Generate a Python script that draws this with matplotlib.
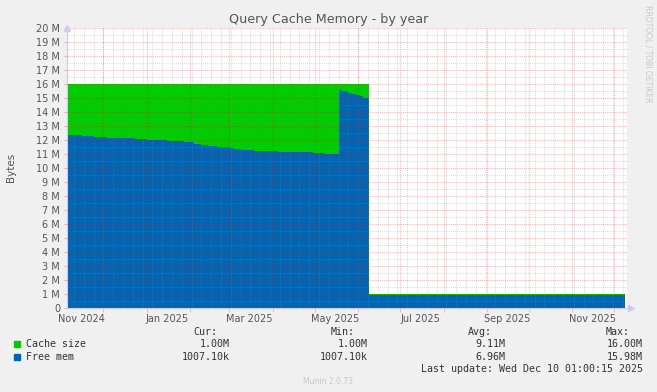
import numpy as np
import pandas as pd
import matplotlib
matplotlib.use("Agg")
import matplotlib.pyplot as plt
from matplotlib.patches import Rectangle

# -------------------------------------------------------------------------
# Data (values in M bytes, step changes by date)
# -------------------------------------------------------------------------
free_dates = ["2024-11-05", "2024-11-16", "2024-11-25", "2024-12-04", "2024-12-24",
              "2025-01-01", "2025-01-16", "2025-01-28", "2025-02-04", "2025-02-09",
              "2025-02-14", "2025-02-21", "2025-03-01", "2025-03-05", "2025-03-10",
              "2025-03-19", "2025-04-05", "2025-04-30", "2025-05-08", "2025-05-19",
              "2025-05-21", "2025-05-25", "2025-05-28", "2025-05-31", "2025-06-03",
              "2025-06-05", "2025-06-09", "2025-12-09"]
free_vals = [12.36, 12.29, 12.21, 12.14, 12.07, 12.00, 11.93, 11.84, 11.74, 11.66,
             11.57, 11.50, 11.43, 11.33, 11.26, 11.19, 11.14, 11.07, 11.02, 15.60,
             15.50, 15.38, 15.26, 15.19, 15.12, 15.02, 0.93, 0.93]

cache_dates = ["2024-11-05", "2025-06-09", "2025-12-09"]
cache_vals = [16.0, 1.0, 1.0]

series_names = ["Cache size", "Free mem"]
series_colors = ["#00CC00", "#0066B3"]
stat_cur = ["1.00M", "1007.10k"]
stat_min = ["1.00M", "1007.10k"]
stat_avg = ["9.11M", "6.96M"]
stat_max = ["16.00M", "15.98M"]

label_dates = ["2024-11-16", "2025-01-16", "2025-03-16", "2025-05-16",
               "2025-07-16", "2025-09-16", "2025-11-16"]
label_texts = ["Nov 2024", "Jan 2025", "Mar 2025", "May 2025",
               "Jul 2025", "Sep 2025", "Nov 2025"]

x_start = pd.Timestamp("2024-11-05 12:00")
x_end = pd.Timestamp("2025-12-10 12:00")

# -------------------------------------------------------------------------
# Figure
# -------------------------------------------------------------------------
W, H = 657, 392
BG = "#F0F0F0"
TXT = "#555555"

fig = plt.figure(figsize=(W / 100, H / 100), dpi=100, facecolor=BG)
ax = fig.add_axes([67 / W, 1 - 308 / H, 560 / W, 280 / H])
ax.set_facecolor("white")

ax.fill_between(pd.to_datetime(cache_dates), 0, cache_vals, step="post",
                color=series_colors[0], lw=0, zorder=1)
ax.fill_between(pd.to_datetime(free_dates), 0, free_vals, step="post",
                color=series_colors[1], lw=0, zorder=2)

ax.set_xlim(x_start, x_end)
ax.set_ylim(0, 20)

# grid: weekly minor (gray), monthly major (red), y every 0.5 / 1 M
major_c = (1.0, 0.0, 0.0, 0.28)
minor_c = (0.55, 0.55, 0.55, 0.3)
dots = (0, (1, 1))
weeks = pd.date_range(x_start, x_end, freq="W-SUN")
months = pd.date_range(x_start, x_end, freq="MS")
ax.vlines(weeks, 0, 20, colors=[minor_c], linestyles=[dots], lw=0.75, zorder=3)
ax.vlines(months, 0, 20, colors=[major_c], linestyles=[dots], lw=0.75, zorder=4)
ax.hlines(np.arange(0.5, 20, 1.0), x_start, x_end, colors=[minor_c],
          linestyles=[dots], lw=0.75, zorder=3)
ax.hlines(np.arange(1, 21, 1), x_start, x_end, colors=[major_c],
          linestyles=[dots], lw=0.75, zorder=4)

# ticks
ax.set_xticks(pd.to_datetime(label_dates))
ax.set_xticklabels(label_texts)
ax.set_xticks(months, minor=True)
ax.tick_params(axis="x", which="major", length=0, pad=4, labelsize=7, labelcolor=TXT)
ax.tick_params(axis="x", which="minor", length=3, color=major_c, direction="out")
ax.set_yticks(np.arange(0, 21, 1))
ax.set_yticklabels(["0"] + [f"{v} M" for v in range(1, 21)])
ax.tick_params(axis="y", length=2, color=major_c, pad=3, labelsize=7, labelcolor=TXT)

for s in ["top", "right"]:
    ax.spines[s].set_visible(False)
axis_c = "#C8CCF0"
ax.spines["left"].set_color(axis_c)
ax.spines["bottom"].set_color(axis_c)
ax.spines["bottom"].set_zorder(5)
ax.plot([0], [1], marker="^", color=axis_c, ms=5, transform=ax.transAxes,
        clip_on=False, zorder=6)
ax.plot([1.008], [0], marker=">", color=axis_c, ms=5, transform=ax.transAxes,
        clip_on=False, zorder=6)

fig.text(329 / W, 1 - 19 / H, "Query Cache Memory - by year", ha="center",
         va="center", fontsize=9.2, color=TXT)
fig.text(11 / W, 1 - 167 / H, "Bytes", rotation=90, ha="center", va="center",
         fontsize=7.5, color=TXT)
fig.text(648 / W, 1 - 5 / H, "RRDTOOL / TOBI OETIKER", rotation=-90, ha="center",
         va="top", fontsize=5.5, color="#C8C8C8")

# legend block
mono = dict(family="DejaVu Sans Mono", fontsize=7.2, color="#333333", va="center")
col_right = [230, 368, 505, 643]
col_head = ["Cur:", "Min:", "Avg:", "Max:"]
head_right = [217, 355, 492, 630]
for xr, h in zip(head_right, col_head):
    fig.text(xr / W, 1 - 332 / H, h, ha="right", **mono)

rows_y = [344, 357]
for i, name in enumerate(series_names):
    yy = 1 - rows_y[i] / H
    fig.patches.append(Rectangle((14 / W, yy - 3 / H), 6 / W, 6 / H,
                                 transform=fig.transFigure, color=series_colors[i]))
    fig.text(26 / W, yy, name, ha="left", **mono)
    vals = [stat_cur[i], stat_min[i], stat_avg[i], stat_max[i]]
    for xr, v in zip(col_right, vals):
        fig.text(xr / W, yy, v, ha="right", **mono)

fig.text(643 / W, 1 - 369 / H, "Last update: Wed Dec 10 01:00:15 2025",
         ha="right", **mono)
fig.text(328 / W, 1 - 381 / H, "Munin 2.0.73", ha="center", va="center",
         fontsize=5.5, color="#C8C8C8")

fig.savefig("out.png", dpi=100, facecolor=BG)
